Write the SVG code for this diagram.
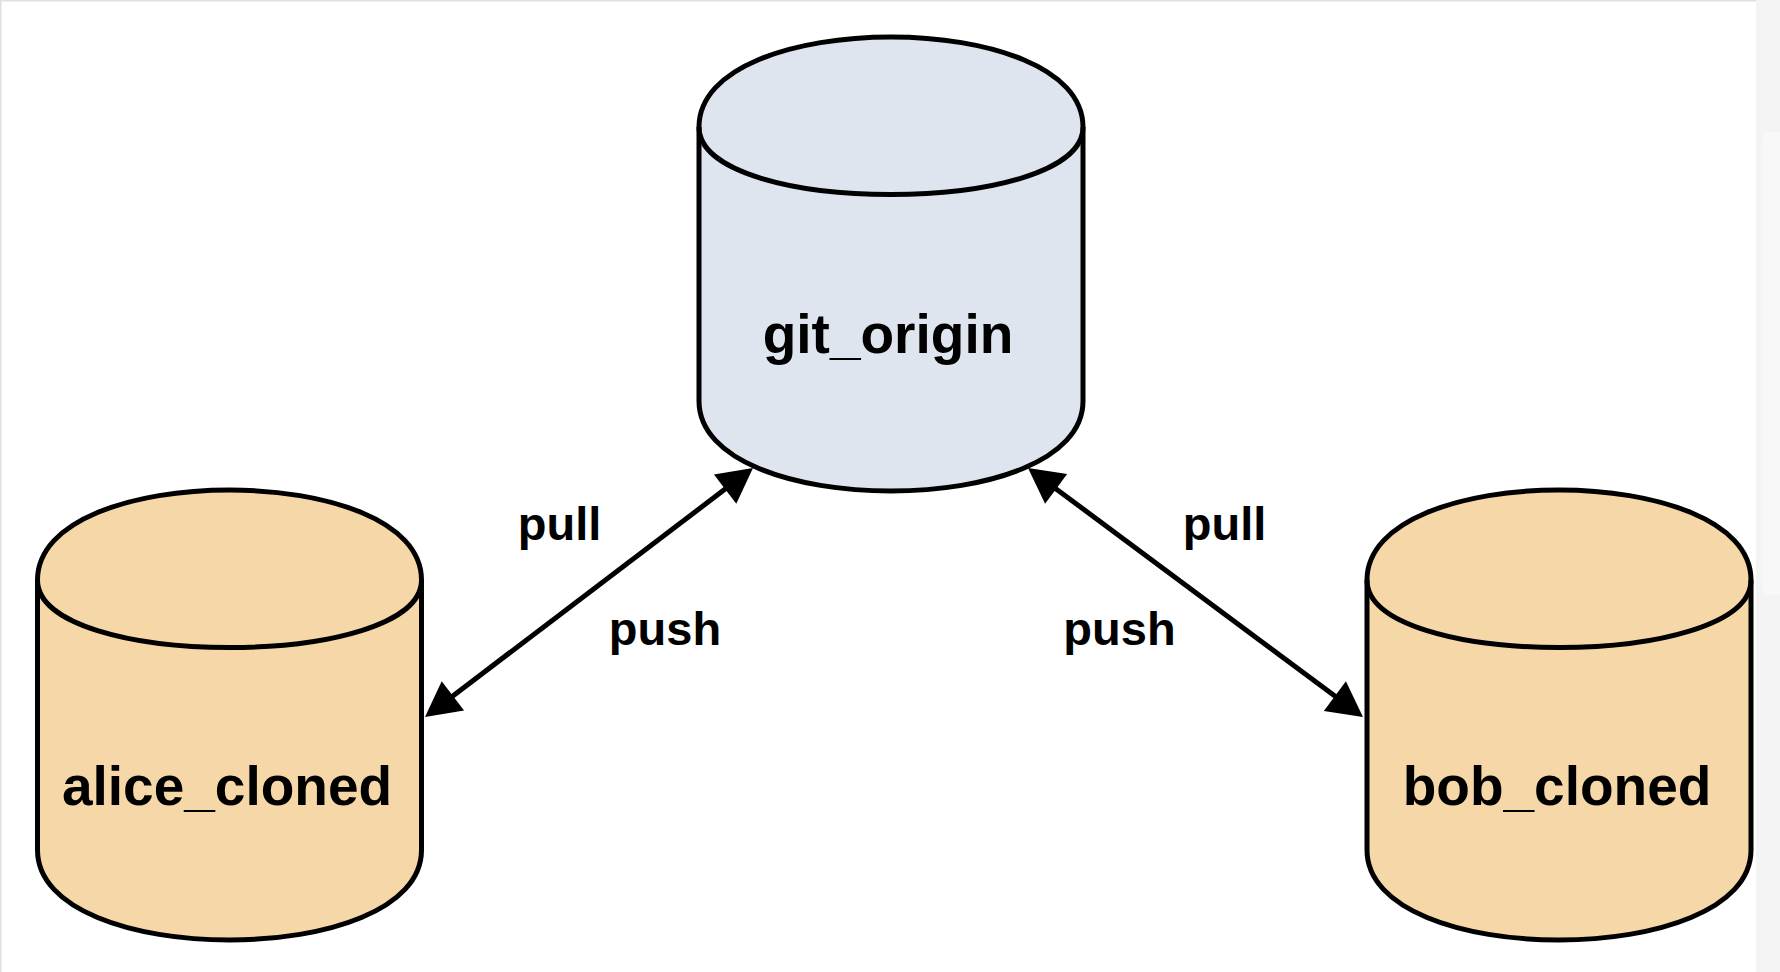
<svg xmlns="http://www.w3.org/2000/svg" width="1780" height="972" viewBox="0 0 1780 972">
<style>
.cyl { stroke: #000000; stroke-width: 5; }
.blue { fill: #dfe5ef; }
.orange { fill: #f6d7a8; }
.cap { fill: none; stroke: #000000; stroke-width: 5; }
.nlabel { font-family: "Liberation Sans", Arial, Helvetica, sans-serif; font-weight: bold; font-size: 55px; fill: #000000; text-anchor: middle; }
.elabel { font-family: "Liberation Sans", Arial, Helvetica, sans-serif; font-weight: bold; font-size: 47px; fill: #000000; text-anchor: middle; }
.edge { stroke: #000000; stroke-width: 5; fill: none; marker-start: url(#head); marker-end: url(#head); }
</style>
<defs>
<marker id="head" markerUnits="userSpaceOnUse" markerWidth="40" markerHeight="40" refX="0" refY="0" orient="auto-start-reverse" overflow="visible">
<path d="M-5,-18.5 L30,0 L-5,18.5 Z" fill="#000000"/>
</marker>
</defs>
<rect x="0" y="0" width="1780" height="972" fill="#ffffff"/>
<rect x="0" y="0" width="1780" height="1.5" fill="#e0e0e0"/>
<rect x="0" y="0" width="1.5" height="972" fill="#e0e0e0"/>
<rect x="1756" y="0" width="24" height="972" fill="#f4f4f4"/>
<rect x="1762" y="132" width="30" height="463" rx="8" fill="#f8f8f8"/>

<g id="git_origin">
<path class="cyl blue" d="M699,127 C699,7 1083,7 1083,127 L1083,401 C1083,521 699,521 699,401 Z"/>
<path class="cap" d="M699,127 C699,217 1083,217 1083,127"/>
<text class="nlabel" x="888" y="353">git_origin</text>
</g>

<g id="alice_cloned">
<path class="cyl orange" d="M37.5,580 C37.5,460 421.5,460 421.5,580 L421.5,850 C421.5,970 37.5,970 37.5,850 Z"/>
<path class="cap" d="M37.5,580 C37.5,670 421.5,670 421.5,580"/>
<text class="nlabel" x="227" y="805">alice_cloned</text>
</g>

<g id="bob_cloned">
<path class="cyl orange" d="M1367,580 C1367,460 1751,460 1751,580 L1751,850 C1751,970 1367,970 1367,850 Z"/>
<path class="cap" d="M1367,580 C1367,670 1751,670 1751,580"/>
<text class="nlabel" x="1557" y="805">bob_cloned</text>
</g>

<g id="connectors">
<path class="edge" d="M448.9,698.9 L729.1,486.1"/>
<path class="edge" d="M1052.1,485.9 L1338.9,699.1"/>
<text class="elabel" x="559.5" y="540">pull</text>
<text class="elabel" x="665" y="645">push</text>
<text class="elabel" x="1224.5" y="540">pull</text>
<text class="elabel" x="1119.5" y="645">push</text>
</g>
</svg>
